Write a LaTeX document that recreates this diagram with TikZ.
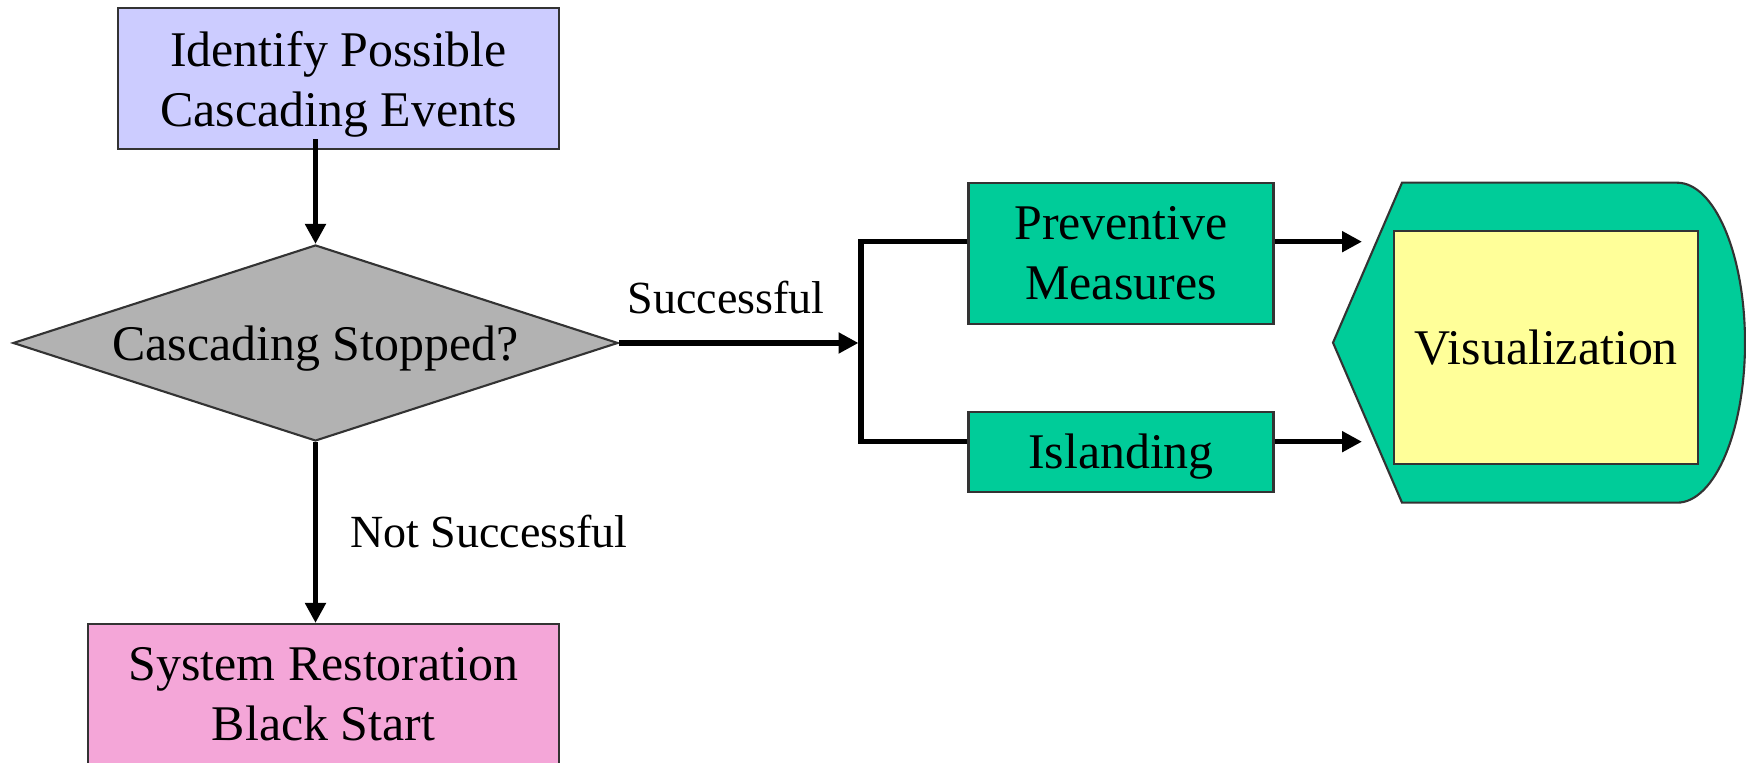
\documentclass[tikz,border=0pt]{standalone}
\usepackage{fontspec}
\setmainfont{Liberation Serif}
\usetikzlibrary{arrows.meta,shapes.geometric,positioning}

\definecolor{idcol}{HTML}{CCCCFF}
\definecolor{deccol}{HTML}{B2B2B2}
\definecolor{rescol}{HTML}{F4A6D8}
\definecolor{actcol}{HTML}{00CC99}
\definecolor{viscol}{HTML}{FFFF99}

\begin{document}
\begin{tikzpicture}[scale=1.0,
    box/.style={draw=black!80, line width=0.6pt, align=center, inner sep=0pt,
                font=\fontsize{14.2}{17.1}\selectfont},
    flow/.style={line width=1.6pt, -{Triangle[length=0.2cm,width=0.2cm]}},
    link/.style={line width=1.6pt, line join=miter},
    lbl/.style={font=\fontsize{13.1}{15.7}\selectfont, inner sep=0pt}]

  \useasboundingbox (0,0) rectangle (17.46,7.63);

  \node[box, fill=idcol, text depth=0pt, minimum width=4.41cm, minimum height=1.41cm] (ident) at (3.385,6.845) {Identify Possible\\Cascading Events};   % first step
  \node[box, diamond, fill=deccol, text depth=0pt, aspect=3.09, minimum width=6.05cm, minimum height=1.96cm] (stop) at (3.155,4.20) {Cascading Stopped?}; % decision
  \node[box, fill=rescol, minimum width=4.71cm, minimum height=1.41cm] (restore) at (3.235,0.685) {System Restoration\\Black Start};  % fail branch
  \node[box, fill=actcol, minimum width=3.05cm, minimum height=1.41cm] (prev) at (11.21,5.097) {Preventive\\Measures};          % upper action
  \node[box, fill=actcol, text depth=0pt, minimum width=3.05cm, minimum height=0.80cm] (island) at (11.21,3.113) {Islanding};    % lower action

  % display shape round the visualization box
  \draw[draw=black!80, line width=0.6pt, fill=actcol] (13.33,4.203) -- (14.02,5.803) -- (16.77,5.803)
       arc[start angle=90, end angle=-90, x radius=0.68, y radius=1.6] -- (14.02,2.603) -- cycle;
  \node[box, fill=viscol, minimum width=3.04cm, minimum height=2.33cm] (vis) at (15.463,4.157) {Visualization};

  \coordinate (split) at (8.585,4.20);        % arrow meets the bar
  \coordinate (jtop) at (8.61,5.213);         % upper corner
  \coordinate (jbot) at (8.61,3.213);         % lower corner
  \coordinate (vin1) at (13.62,5.213);        % upper arrow end
  \coordinate (vin2) at (13.62,3.213);        % lower arrow end

  \draw[flow] ([yshift=1.1mm]ident.south -| stop.north) -- (stop.north);   % into decision
  \draw[flow] (stop.south) -- (restore.north -| stop.south);               % not successful
  \draw[flow] (stop.east) -- (split);                                      % successful
  \draw[link] (prev.west |- jtop) -- (jtop) -- (jbot) -- (island.west |- jbot); % the bar
  \draw[flow] (prev.east |- jtop) -- (vin1);
  \draw[flow] (island.east |- jbot) -- (vin2);

  \node[lbl] (succ) at (7.26,4.65) {Successful};
  \node[lbl] (nosucc) at (4.89,2.31) {Not Successful};

\end{tikzpicture}
\end{document}
